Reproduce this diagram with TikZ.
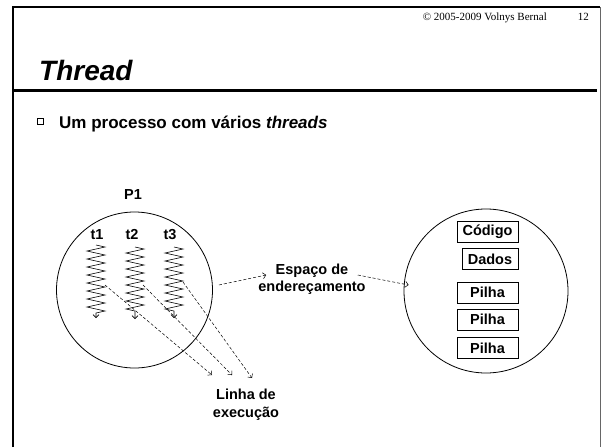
\documentclass[tikz,border=0pt]{standalone}
\usepackage{fontspec}
\setmainfont{Liberation Sans}
\newfontfamily\serifcr{Liberation Serif}
\usetikzlibrary{decorations.pathmorphing,arrows.meta}
\begin{document}
\begin{tikzpicture}[x=1pt,y=-1pt,
				every node/.style={font=\fontsize{14.5}{17}\selectfont\bfseries,inner sep=1pt},
				lbl/.style={align=center},
				region/.style={circle,draw,line width=0.8pt,inner sep=0},
				seg/.style={draw,line width=0.8pt,minimum width=61pt,minimum height=21pt,inner sep=0},
				thread/.style={decorate,decoration={zigzag,segment length=8pt,amplitude=9pt,post length=5pt},line width=0.6pt,-{Straight Barb[length=3pt,width=6pt]}},
				flow/.style={dash pattern=on 3pt off 2pt,line width=0.5pt,-{Straight Barb[length=3pt,width=6pt]}}]
\useasboundingbox (0,0) rectangle (602,447);
\draw[line width=2.5pt] (13,447) -- (13,7);
\draw[line width=1.5pt] (12,7) -- (600,7);
\draw[line width=0.8pt,black!60] (600,7) -- (600,447);
\draw[line width=3pt] (12,90) -- (597,90);
\node[font=\serifcr\fontsize{11}{12}\selectfont,anchor=base east] (copy) at (548,20) {© 2005-2009 Volnys Bernal};
\node[font=\serifcr\fontsize{11}{12}\selectfont,anchor=base east] (page) at (590,20) {12};
\node[font=\fontsize{28}{30}\selectfont\bfseries\itshape,anchor=base west] (title) at (38,80) {Thread};
\node[draw,line width=0.6pt,minimum size=6pt,inner sep=0] (bul) at (40,121) {};
\node[font=\fontsize{17}{20}\selectfont\bfseries,anchor=base west] (sub) at (58,128) {Um processo com vários \textit{threads}};
\node (p1) at (133,195) {P1};
\node[region,minimum size=156pt] (proc) at (134.5,290) {};
\node[anchor=base] (t1) at (97,239) {t1};
\node[anchor=base] (t2) at (132,239) {t2};
\node[anchor=base] (t3) at (170,239) {t3};
\coordinate (t1a) at (96,245);
\coordinate (t1b) at (96,318);
\coordinate (t2a) at (135,247);
\coordinate (t2b) at (135,319);
\coordinate (t3a) at (174,247);
\coordinate (t3b) at (174,318);
\draw[thread] (t1a) -- (t1b);
\draw[thread] (t2a) -- (t2b);
\draw[thread] (t3a) -- (t3b);
\node[region,minimum size=164pt] (addr) at (486,291) {};
\node[seg] (cod) at (487.5,232) {Código};
\node[seg,minimum width=56pt] (dad) at (490,259) {Dados};
\node[seg] (pil1) at (487.5,292.5) {Pilha};
\node[seg] (pil2) at (487.5,319.5) {Pilha};
\node[seg] (pil3) at (487.5,348) {Pilha};
\node[lbl] (espaco) at (312,279) {Espaço de\\endereçamento};
\node[lbl,font=\fontsize{14.5}{18}\selectfont\bfseries] (linha) at (246,405) {Linha de\\execução};
\coordinate (e1s) at (105,285);
\coordinate (e1e) at (212,375);
\coordinate (e2s) at (143,285);
\coordinate (e2e) at (232,375);
\coordinate (e3s) at (183,282);
\coordinate (e3e) at (252,378);
\draw[flow] (e1s) -- (e1e);
\draw[flow] (e2s) -- (e2e);
\draw[flow] (e3s) -- (e3e);
\draw[flow] ([xshift=6pt,yshift=5pt]proc.east) -- ([xshift=9pt,yshift=4pt]espaco.west);
\draw[flow] ([xshift=-9pt,yshift=4pt]espaco.east) -- ([xshift=5pt,yshift=6pt]addr.west);
\end{tikzpicture}
\end{document}
